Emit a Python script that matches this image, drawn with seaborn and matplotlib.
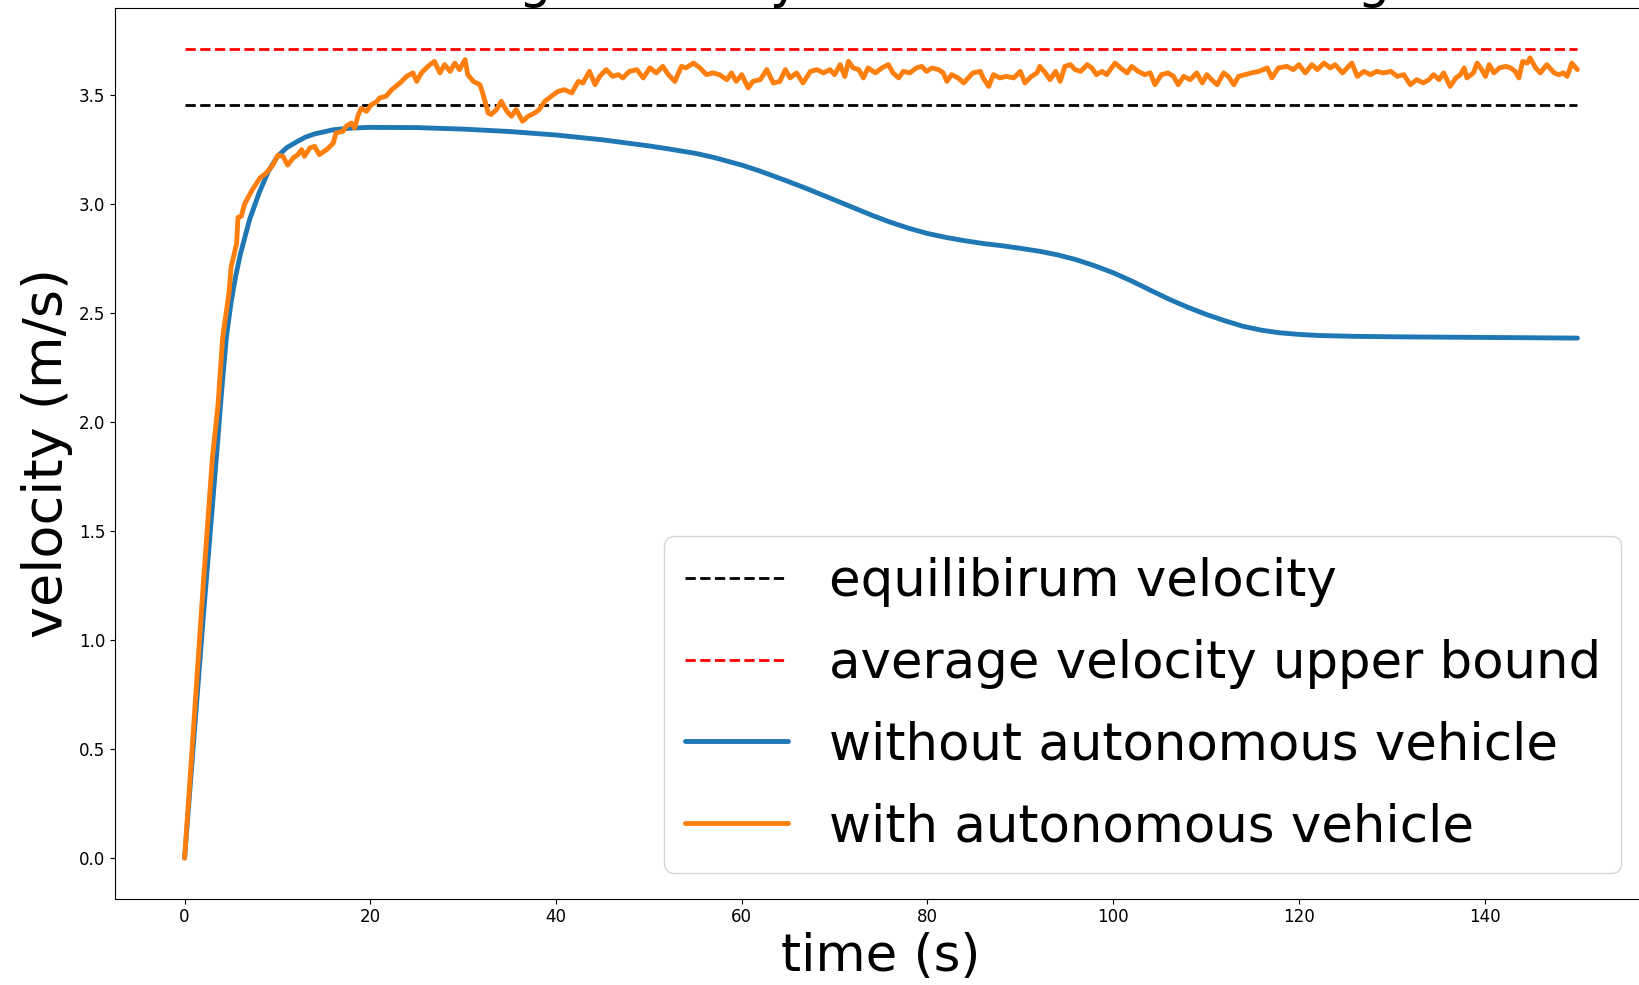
import matplotlib
matplotlib.use('Agg')
import matplotlib.pyplot as plt
import seaborn as sns

sns.set_style('ticks', {'axes.edgecolor': 'black', 'xtick.color': 'black',
                        'ytick.color': 'black', 'text.color': 'black',
                        'axes.labelcolor': 'black'})
plt.rcParams['font.family'] = ['DejaVu Sans']

# ==================== data ====================
# velocity without autonomous vehicle (smooth)
no_av_t = [0, 1, 2, 3, 3.5, 4, 4.5, 5, 5.5, 6, 7, 8, 9, 10, 11, 12, 13, 14, 16, 18,
           20, 25, 30, 35, 40, 45, 50, 52, 55, 57, 60, 62, 65, 67, 70, 72, 74, 76, 78,
           80, 82, 84, 86, 88, 90, 92, 94, 96, 98, 100, 102, 104, 106, 108, 110, 112,
           114, 116, 118, 120, 122, 126, 130, 140, 150]
no_av_v = [0.0, 0.55, 1.10, 1.62, 1.88, 2.15, 2.39, 2.55, 2.67, 2.77, 2.93, 3.05, 3.15,
           3.22, 3.26, 3.285, 3.308, 3.323, 3.342, 3.35,
           3.353, 3.352, 3.345, 3.334, 3.318, 3.296, 3.268, 3.255, 3.234, 3.215, 3.18,
           3.152, 3.105, 3.072, 3.02, 2.985, 2.95, 2.918, 2.89, 2.866, 2.848, 2.833,
           2.82, 2.81, 2.798, 2.785, 2.768, 2.746, 2.718, 2.686, 2.648, 2.606, 2.565,
           2.528, 2.495, 2.466, 2.44, 2.422, 2.41, 2.403, 2.398, 2.394, 2.392, 2.389,
           2.386]

# velocity with autonomous vehicle (noisy)
av_t = [0.0, 1.0, 2.0, 3.0, 3.6, 4.1, 4.8, 5.0, 5.5, 5.6, 5.75, 6.1, 6.45, 7.2, 8.1,
        8.8, 9.5, 10.05, 10.6, 11.1, 11.7, 12.2, 12.6, 12.9, 13.5, 14.0, 14.5, 15.3,
        16.0, 16.3, 17.05, 17.4, 17.95, 18.3, 18.7, 19.0, 19.6, 20.1, 20.65, 21.0,
        21.7, 22.3, 23.2, 23.9, 24.6, 25.0, 25.5, 26.2, 26.9, 27.5, 28.0, 28.6, 29.1,
        29.6, 30.2, 30.5, 31.1, 31.8, 32.1, 32.7, 33.0, 33.6, 34.1, 34.7, 35.2, 35.7,
        36.4, 37.0, 37.7, 38.2, 38.8, 39.5, 40.2, 40.9, 41.7, 42.4, 42.9, 43.6, 44.2,
        44.7, 45.4, 46.1, 46.7, 47.2, 47.9, 48.7, 49.4, 50.1, 50.8, 51.5, 52.1, 52.8,
        53.5, 54.0, 54.8, 55.5, 56.2, 56.9, 57.6, 58.4, 58.9, 59.4, 60.0, 60.7, 61.2,
        62.0, 62.7, 63.4, 64.1, 64.7, 65.2, 65.9, 66.6, 67.4, 68.1, 68.8, 69.5, 70.0,
        70.6, 71.1, 71.5, 72.0, 72.6, 73.1, 73.6, 74.4, 75.1, 75.8, 76.3, 76.9, 77.4,
        78.1, 78.8, 79.4, 79.9, 80.5, 81.2, 81.7, 82.1, 82.6, 83.3, 83.9, 84.4, 84.9,
        85.7, 86.0, 86.6, 87.1, 87.8, 88.5, 89.3, 90.0, 90.5, 91.2, 91.8, 92.1, 92.7,
        93.2, 93.8, 94.3, 94.8, 95.4, 95.9, 96.5, 97.2, 97.7, 98.2, 98.8, 99.3, 100.2,
        100.8, 101.5, 102.0, 102.7, 103.4, 104.0, 104.5, 105.2, 105.9, 106.5, 107.0,
        107.6, 108.3, 109.0, 109.6, 110.1, 110.6, 111.2, 111.9, 112.4, 113.0, 113.5,
        114.2, 114.9, 115.7, 116.6, 117.1, 117.8, 118.7, 119.4, 120.0, 120.7, 121.4,
        122.0, 122.7, 123.4, 123.9, 124.7, 125.2, 125.7, 126.3, 127.0, 127.7, 128.4,
        129.1, 129.9, 130.6, 131.3, 132.0, 132.7, 133.4, 134.0, 134.5, 135.1, 135.6,
        136.3, 136.9, 137.4, 137.8, 138.1, 138.8, 139.2, 139.7, 140.1, 140.5, 141.0,
        141.6, 142.3, 142.8, 143.3, 143.7, 144.1, 144.6, 144.9, 145.5, 146.0, 146.7,
        147.5, 148.0, 148.5, 148.9, 149.4, 150.0]
av_v = [0.0, 0.62, 1.25, 1.84, 2.08, 2.39, 2.60, 2.71, 2.80, 2.82, 2.94, 2.945, 3.00,
        3.06, 3.12, 3.144, 3.18, 3.225, 3.22, 3.18, 3.213, 3.228, 3.251, 3.22, 3.259,
        3.266, 3.228, 3.251, 3.28, 3.327, 3.335, 3.358, 3.373, 3.35, 3.41, 3.44, 3.427,
        3.457, 3.47, 3.488, 3.496, 3.526, 3.557, 3.587, 3.603, 3.564, 3.603, 3.633,
        3.656, 3.603, 3.641, 3.61, 3.648, 3.618, 3.664, 3.595, 3.564, 3.549, 3.511,
        3.419, 3.412, 3.435, 3.473, 3.427, 3.404, 3.435, 3.381, 3.404, 3.419, 3.435,
        3.473, 3.496, 3.518, 3.526, 3.511, 3.564, 3.557, 3.61, 3.549, 3.587, 3.618,
        3.587, 3.595, 3.58, 3.61, 3.618, 3.58, 3.626, 3.603, 3.633, 3.595, 3.564, 3.633,
        3.626, 3.648, 3.626, 3.595, 3.603, 3.595, 3.572, 3.603, 3.564, 3.595, 3.534,
        3.564, 3.572, 3.618, 3.557, 3.564, 3.618, 3.58, 3.603, 3.557, 3.61, 3.618,
        3.603, 3.618, 3.595, 3.641, 3.587, 3.656, 3.626, 3.618, 3.58, 3.626, 3.603,
        3.626, 3.641, 3.603, 3.58, 3.61, 3.603, 3.626, 3.633, 3.61, 3.626, 3.618, 3.603,
        3.564, 3.595, 3.58, 3.557, 3.58, 3.603, 3.61, 3.58, 3.541, 3.595, 3.58, 3.587,
        3.58, 3.61, 3.557, 3.587, 3.603, 3.633, 3.603, 3.572, 3.61, 3.564, 3.633, 3.641,
        3.618, 3.61, 3.641, 3.626, 3.595, 3.61, 3.595, 3.648, 3.626, 3.603, 3.633, 3.61,
        3.595, 3.603, 3.549, 3.595, 3.603, 3.587, 3.549, 3.587, 3.572, 3.603, 3.557,
        3.595, 3.572, 3.549, 3.603, 3.587, 3.549, 3.587, 3.595, 3.603, 3.61, 3.626,
        3.58, 3.626, 3.633, 3.618, 3.641, 3.603, 3.641, 3.618, 3.648, 3.626, 3.641,
        3.603, 3.626, 3.648, 3.587, 3.61, 3.595, 3.61, 3.603, 3.61, 3.587, 3.595, 3.549,
        3.572, 3.557, 3.572, 3.595, 3.572, 3.603, 3.541, 3.58, 3.595, 3.626, 3.58, 3.603,
        3.648, 3.618, 3.587, 3.641, 3.603, 3.626, 3.633, 3.626, 3.61, 3.58, 3.656,
        3.648, 3.672, 3.626, 3.603, 3.641, 3.603, 3.595, 3.603, 3.587, 3.648, 3.618]

eq_velocity = 3.456
upper_bound = 3.715
ref_t = [0, 150]

# ==================== plot ====================
fig = plt.figure(figsize=(16.4, 9.85), dpi=100)
ax = fig.add_axes([0.0701, 0.0878, 0.9342, 0.9041])

sns.lineplot(x=ref_t, y=[eq_velocity] * 2, ax=ax, color='black', linestyle='--',
             linewidth=2, label='equilibirum velocity')
sns.lineplot(x=ref_t, y=[upper_bound] * 2, ax=ax, color='red', linestyle='--',
             linewidth=2, label='average velocity upper bound')
sns.lineplot(x=no_av_t, y=no_av_v, ax=ax, color='#1f77b4', linewidth=3.5,
             label='without autonomous vehicle')
sns.lineplot(x=av_t, y=av_v, ax=ax, color='#ff7f0e', linewidth=3.5,
             label='with autonomous vehicle')

ax.set_xlim(-7.5, 157.5)
ax.set_ylim(-0.186, 3.901)
ax.set_xticks(range(0, 141, 20))
ax.set_yticks([0.0, 0.5, 1.0, 1.5, 2.0, 2.5, 3.0, 3.5])
ax.tick_params(labelsize=12)
ax.set_xlabel('time (s)', fontsize=37)
ax.set_ylabel('velocity (m/s)', fontsize=39)
ax.set_title('Average velocity of vehicles on the ring', fontsize=37)
ax.legend(loc='lower right', fontsize=37, labelspacing=0.62)

fig.savefig('out.png', dpi=100)
